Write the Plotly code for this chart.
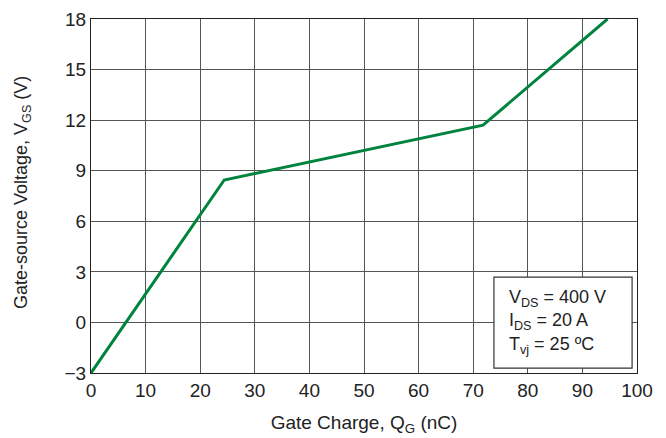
import plotly.graph_objects as go

qg = [0, 24.4, 71.8, 94.6]
vgs = [-3, 8.45, 11.7, 18]
xticks = list(range(0, 101, 10))
yticks = [-3, 0, 3, 6, 9, 12, 15, 18]
yticklabels = ["\u22123", "0", "3", "6", "9", "12", "15", "18"]

FONT = "Liberation Sans, Arial, sans-serif"
fig = go.Figure()
fig.add_trace(go.Scatter(x=qg, y=vgs, mode="lines",
                         line=dict(color="#00843D", width=3), showlegend=False))

fig.add_shape(type="rect", xref="paper", yref="paper", x0=0.738, x1=0.991, y0=0.014, y1=0.271,
              line=dict(color="#333333", width=1.2), fillcolor="white", layer="above")
fig.add_annotation(xref="paper", yref="paper", x=0.762, y=0.143, xanchor="left", yanchor="middle",
                   text="V<sub>DS</sub> = 400 V<br>I<sub>DS</sub> = 20 A<br>T<sub>vj</sub> = 25 ºC",
                   showarrow=False, align="left",
                   font=dict(family=FONT, size=18, color="#222222"))
fig.add_annotation(xref="paper", yref="paper", x=0, y=0.5, xshift=-69, yshift=3,
                   xanchor="center", yanchor="middle",
                   text="Gate-source Voltage, V<sub>GS</sub> (V)", textangle=-90, showarrow=False,
                   font=dict(family=FONT, size=18, color="#222222"))

axis_common = dict(showline=True, linecolor="#222222", linewidth=1.2, mirror=True,
                   showgrid=True, gridcolor="#555555", gridwidth=1.2, zeroline=False,
                   automargin=False,
                   ticks="", tickfont=dict(family=FONT, size=19, color="#222222"))
fig.update_xaxes(range=[0, 100], tickvals=xticks, title=dict(text="Gate Charge, Q<sub>G</sub> (nC)",
                 font=dict(family=FONT, size=19, color="#222222")),
                 **axis_common)
fig.update_yaxes(range=[-3, 18], tickvals=yticks, ticktext=yticklabels, **axis_common)
fig.update_layout(width=658, height=430, margin=dict(l=83, r=29, t=11, b=65),
                  plot_bgcolor="white", paper_bgcolor="white")
fig.write_html("out.html")
